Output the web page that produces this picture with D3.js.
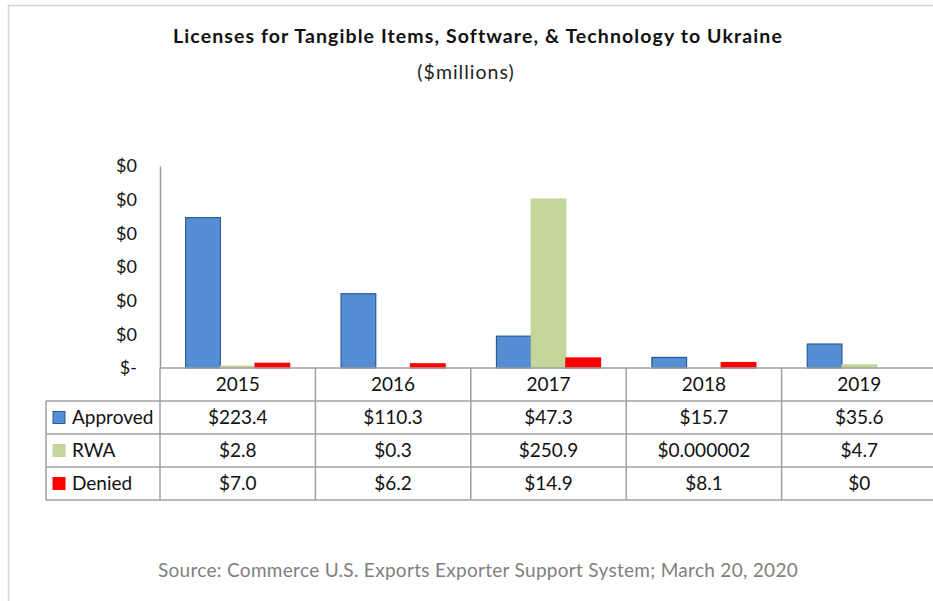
<!DOCTYPE html>
<html>
<head>
<meta charset="utf-8">
<script src="https://cdn.jsdelivr.net/npm/d3@7"></script>
<style>
  body { margin: 0; background: #fff; }
  svg { display: block; font-family: Lato, "Open Sans", sans-serif; }
</style>
</head>
<body>
<svg id="chart" width="933" height="601"></svg>
<script>
// data ($ millions)
var years = ["2015", "2016", "2017", "2018", "2019"];
var seriesNames = ["Approved", "RWA", "Denied"];
var approved = [223.4, 110.3, 47.3, 15.7, 35.6];
var rwa = [2.8, 0.3, 250.9, 0.000002, 4.7];
var denied = [7.0, 6.2, 14.9, 8.1, 0];
// labels as printed in the table
var approvedLabels = ["$223.4", "$110.3", "$47.3", "$15.7", "$35.6"];
var rwaLabels = ["$2.8", "$0.3", "$250.9", "$0.000002", "$4.7"];
var deniedLabels = ["$7.0", "$6.2", "$14.9", "$8.1", "$0"];
var yTicks = [0, 50, 100, 150, 200, 250, 300];

var values = {Approved: approved, RWA: rwa, Denied: denied};
var labels = {Approved: approvedLabels, RWA: rwaLabels, Denied: deniedLabels};
var fills = {Approved: "#558ed5", RWA: "#c3d69b", Denied: "#ff0000"};
var strokes = {Approved: "#2c5a93", RWA: "#c3d69b", Denied: "#ff0000"};

var svg = d3.select("#chart");

// outer frame of the chart object
svg.append("path")
    .attr("d", "M8.5,601 V5.5 H933")
    .attr("fill", "none")
    .attr("stroke", "#d4d4d4")
    .attr("stroke-width", 1.5);

svg.append("text")
    .attr("x", 478).attr("y", 43)
    .attr("text-anchor", "middle")
    .style("font-weight", "bold").style("font-size", "19.5px")
    .style("letter-spacing", "1.1px")
    .attr("fill", "#111")
    .text("Licenses for Tangible Items, Software, & Technology to Ukraine");

svg.append("text")
    .attr("x", 466).attr("y", 79)
    .attr("text-anchor", "middle")
    .style("font-size", "19.5px")
    .style("letter-spacing", "1px")
    .attr("fill", "#222")
    .text("($millions)");

var x = d3.scaleBand()
    .domain(years)
    .range([160, 937]);

var x1 = d3.scaleBand()
    .domain(seriesNames)
    .range([0, x.bandwidth()])
    .paddingOuter(0.74);

var y = d3.scaleLinear()
    .domain([0, 300])
    .range([368, 166]);

// bars
var groups = svg.append("g").selectAll("g")
    .data(years)
    .enter().append("g")
      .attr("transform", function(d) { return "translate(" + x(d) + ",0)"; });

groups.selectAll("rect")
    .data(function(d, i) { return seriesNames.map(function(s) { return {key: s, value: values[s][i]}; }); })
    .enter().append("rect")
      .attr("x", function(d) { return x1(d.key); })
      .attr("y", function(d) { return y(d.value); })
      .attr("width", x1.bandwidth())
      .attr("height", function(d) { return y(0) - y(d.value); })
      .attr("fill", function(d) { return fills[d.key]; })
      .attr("stroke", function(d) { return d.value > 0.5 ? strokes[d.key] : "none"; })
      .attr("stroke-width", 1.2);

// y axis
var yAxis = svg.append("g")
    .attr("transform", "translate(160,0)")
    .call(d3.axisLeft(y).tickValues(yTicks).tickSize(0).tickPadding(23)
      .tickFormat(function(d) { return d === 0 ? "$-" : "$0"; }));
yAxis.select(".domain").attr("stroke", "#9a9a9a").attr("stroke-width", 1.5);
yAxis.selectAll("text")
    .style("font-family", "Lato, sans-serif").style("font-size", "18px")
    .attr("fill", "#111");

// data table
var rows = d3.scaleBand()
    .domain(["year"].concat(seriesNames))
    .range([368, 500]);

var grid = svg.append("g")
    .attr("stroke", "#a0a0a0")
    .attr("stroke-width", 1.5)
    .attr("fill", "none");

grid.append("line")
    .attr("x1", 160).attr("x2", 937)
    .attr("y1", rows("year")).attr("y2", rows("year"));

seriesNames.forEach(function(s) {
  grid.append("line")
      .attr("x1", 46).attr("x2", 937)
      .attr("y1", rows(s)).attr("y2", rows(s));
});
grid.append("line")
    .attr("x1", 46).attr("x2", 937)
    .attr("y1", 500).attr("y2", 500);

grid.append("line")
    .attr("x1", 46).attr("x2", 46)
    .attr("y1", rows("Approved")).attr("y2", 500);

years.forEach(function(d) {
  grid.append("line")
      .attr("x1", x(d)).attr("x2", x(d))
      .attr("y1", y(0)).attr("y2", 500);
});

var cellText = svg.append("g")
    .style("font-size", "19px")
    .attr("fill", "#111")
    .attr("text-anchor", "middle");

cellText.selectAll(".year")
    .data(years)
    .enter().append("text")
      .attr("class", "year")
      .attr("x", function(d) { return x(d) + x.bandwidth() / 2; })
      .attr("y", rows("year") + rows.bandwidth() / 2)
      .attr("dy", "0.36em")
      .text(function(d) { return d; });

seriesNames.forEach(function(s) {
  cellText.selectAll(".v-" + s)
      .data(labels[s])
      .enter().append("text")
        .attr("class", "v-" + s)
        .attr("x", function(d, i) { return x(years[i]) + x.bandwidth() / 2; })
        .attr("y", rows(s) + rows.bandwidth() / 2)
        .attr("dy", "0.36em")
        .text(function(d) { return d; });
});

// legend keys in the first column
var legend = svg.append("g").selectAll("g")
    .data(seriesNames)
    .enter().append("g")
      .attr("transform", function(d) { return "translate(53," + (rows(d) + rows.bandwidth() / 2) + ")"; });

legend.append("rect")
    .attr("x", 0).attr("y", -6)
    .attr("width", 12).attr("height", 12)
    .attr("fill", function(d) { return fills[d]; })
    .attr("stroke", function(d) { return strokes[d]; })
    .attr("stroke-width", 1);

legend.append("text")
    .attr("x", 19)
    .attr("dy", "0.36em")
    .style("font-size", "19px")
    .attr("fill", "#111")
    .text(function(d) { return d; });

svg.append("text")
    .attr("x", 478).attr("y", 577)
    .attr("text-anchor", "middle")
    .style("font-size", "19px")
    .style("letter-spacing", "0.3px")
    .attr("fill", "#808080")
    .text("Source: Commerce U.S. Exports Exporter Support System; March 20, 2020");
</script>
</body>
</html>
